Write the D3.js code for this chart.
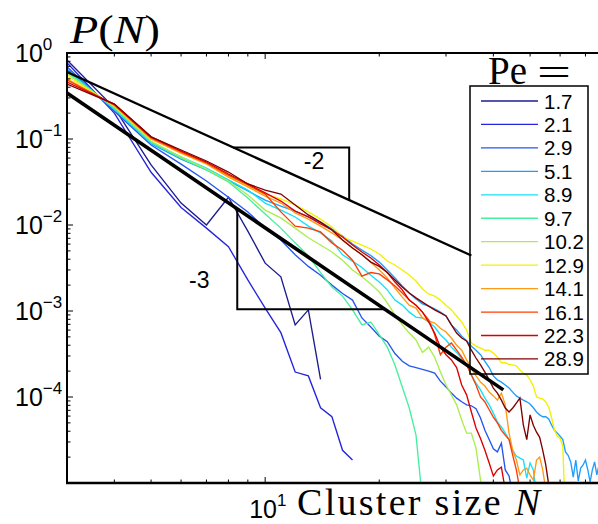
<!DOCTYPE html>
<html><head><meta charset="utf-8">
<script src="https://cdn.jsdelivr.net/npm/d3@7"></script>
<style>body{margin:0;background:#fff;overflow:hidden}</style>
</head><body>
<svg id="c" width="598" height="524"></svg>
<script>
// ---- data ----
const sizes = [3,4,5,6,7,8,9,10,11,12,13,14,15,16,17,18,19,20,21,22,23,24,25,26,27,28,29,30,31,32,33,34,35,36,37,38,39,40,41,42,43,44,45,46,47,48,49,50,51,52,53,54,55,56,57,58,59,60,61,62,63,64,65,66,67,68,69,70,71,72,73,74,75,76];
const peLabels = ["1.7","2.1","2.9","5.1","8.9","9.7","10.2","12.9","14.1","16.1","22.3","28.9"];
const peColors = ["#1c1c90","#2424dd","#2457f0","#1e9cff","#12e2f8","#48eea0","#aaee4e","#f4f000","#ff9a14","#ff3c00","#dc0000","#800000"];

const P_1_7 = [0.83,0.23,0.050,0.018,0.010,0.021,0.0085,0.0036,0.0025,6.9e-4,1.03e-3,1.6e-4];
const P_2_1 = [0.77,0.20,0.041,0.016,0.0092,0.0056,0.0023,1.08e-3,5.6e-4,1.95e-4,1.76e-4,7.5e-5,5.9e-5,2.4e-5,1.85e-5];
const P_2_9 = [0.69,0.21,0.085,0.051,0.0325,0.021,0.0142,0.0092,0.0067,0.0045,0.0033,0.0026,0.0020,0.0016,0.00134,8.3e-4,6.5e-4,5.1e-4,4.4e-4,3.2e-4,2.6e-4,2.3e-4,2.2e-4,2.1e-4,2.0e-4,1.9e-4,1.53e-4,1.31e-4,1.11e-4,9.7e-5,8.8e-5,8.1e-5,7.9e-5,7.3e-5,5.7e-5,4.1e-5,3.2e-5,2.5e-5,2.3e-5,2.9e-5,1.42e-5,1.21e-5,7.3e-6];
const P_5_1 = [0.65,0.22,0.088,0.0585,0.0436,0.0325,0.0249,0.0195,0.0166,0.0145,0.0124,0.0108,0.0090,0.00745,0.0060,0.0051,0.0044,0.0037,0.0030,0.00242,0.00195,0.00162,0.00138,0.00121,0.00114,0.00106,9.7e-4,8.75e-4,6.9e-4,6.0e-4,5.1e-4,4.5e-4,3.9e-4,3.5e-4,3.1e-4,2.6e-4,2.2e-4,1.76e-4,1.58e-4,1.49e-4,1.38e-4,1.27e-4,1.14e-4,1.03e-4,9.7e-5,9.2e-5,8.8e-5,8.3e-5,7.5e-5,6.7e-5,6.2e-5,5.9e-5,5.9e-5,5.55e-5,4.7e-5,4.1e-5,3.8e-5,3.5e-5,3.2e-5,2.3e-5,2.1e-5,1.76e-5,1.17e-5,1.85e-5,1.06e-5,1.49e-5,1.62e-5,1.85e-5,1.42e-5,1.03e-5,1.42e-5,1.76e-5,1.24e-5,1.62e-5];
const P_8_9 = [0.62,0.223,0.090,0.0618,0.046,0.0334,0.0255,0.018,0.0149,0.0124,0.0097,0.0081,0.0065,0.0045,0.0038,0.0032,0.0026,0.00217,0.00176,0.00134,0.00117,9.7e-4,8.5e-4,8.3e-4,7.45e-4,6.5e-4,5.3e-4,4.6e-4,3.8e-4,3.3e-4,2.8e-4,2.4e-4,1.8e-4,1.45e-4,1.21e-4,9.7e-5,8.1e-5,6.5e-5,5.1e-5,4.5e-5,3.8e-5,3.2e-5,2.4e-5,2.06e-5,1.95e-5,1.85e-5,1.14e-5,1.71e-5,1.42e-5,7.3e-6];
const P_9_7 = [0.60,0.229,0.0923,0.060,0.0436,0.0316,0.0206,0.0134,0.0092,0.0062,0.0044,0.0028,0.0019,0.00149,0.00103,6.9e-4,7.45e-4,5.3e-4,3.8e-4,2.36e-4,1.31e-4,7.45e-5,3.6e-5,6.3e-6];
const P_10_2 = [0.57,0.236,0.0948,0.0618,0.0448,0.0325,0.0223,0.0149,0.0121,0.0092,0.0071,0.00585,0.00485,0.0039,0.0030,0.0025,0.00206,0.00166,0.00124,9.0e-4,6.9e-4,5.55e-4,4.6e-4,3.3e-4,3.8e-4,2.9e-4,1.95e-4,1.38e-4,1.06e-4,8.1e-5,5.4e-5,3.8e-5,3.8e-5,2.55e-5,1.08e-5,6.3e-6];
const P_12_9 = [0.54,0.242,0.100,0.0687,0.0512,0.0371,0.0284,0.0229,0.0201,0.0171,0.0142,0.0117,0.0095,0.00725,0.0065,0.00585,0.00526,0.0046,0.00381,0.00343,0.0030,0.00262,0.00223,0.0018,0.00158,0.00149,0.00134,0.00117,0.00103,8.75e-4,7.45e-4,6.0e-4,4.24e-4,3.9e-4,3.7e-4,3.5e-4,3.5e-4,3.25e-4,2.9e-4,2.5e-4,2.5e-4,2.4e-4,2.36e-4,2.3e-4,2.06e-4,1.9e-4,1.8e-4,1.58e-4,1.34e-4,1.0e-4,9.7e-5,9.5e-5,8.75e-5,7.65e-5,5.7e-5,4.1e-5,3.5e-5,3.3e-5,2.7e-5,3.7e-6];
const P_14_1 = [0.50,0.245,0.100,0.0687,0.0512,0.0361,0.0277,0.0217,0.018,0.0138,0.0117,0.0097,0.0081,0.0067,0.0054,0.0045,0.0037,0.0030,0.00242,0.00185,0.00145,0.00117,0.00108,8.3e-4,7.65e-4,7.25e-4,6.3e-4,5.7e-4,4.85e-4,4.0e-4,3.5e-4,2.7e-4,2.17e-4,1.76e-4,1.49e-4,1.34e-4,1.14e-4,1.03e-4,9.2e-5,1.11e-4,8.1e-5,3.8e-5,2.4e-5,1.85e-5,1.24e-5,1.42e-5,1.49e-5,1.24e-5,1.08e-5,1.85e-5,2.0e-5,1.42e-5,8.3e-6];
const P_16_1 = [0.485,0.249,0.103,0.0706,0.0526,0.0381,0.0292,0.0229,0.0142,0.0097,0.0092,0.0083,0.0062,0.0051,0.0039,0.00255,0.0028,0.0027,0.0023,0.00195,0.00162,0.00134,0.00117,9.7e-4,7.9e-4,5.3e-4,3.1e-4,3.8e-4,4.24e-4,3.5e-4,2.9e-4,2.36e-4,1.8e-4,1.38e-4,1.0e-4,8.75e-5,7.1e-5,5.85e-5,5.0e-5,4.1e-5,3.6e-5,3.2e-5,2.1e-5,1.42e-5,8.3e-6];
const P_22_3 = [0.46,0.255,0.106,0.0725,0.054,0.0392,0.030,0.0236,0.019,0.0145,0.0124,0.0103,0.00875,0.00725,0.00585,0.00485,0.00413,0.00343,0.0028,0.00217,0.00176,0.00134,0.00117,9.7e-4,7.45e-4,5.55e-4,3.8e-4,3.1e-4,2.7e-4,2.2e-4,1.38e-4,1.06e-4,6.7e-5,4.36e-5,3.3e-5,2.4e-5,1.71e-5,1.21e-5,1.42e-5,1.53e-5,8.3e-6];
const P_28_9 = [0.436,0.255,0.106,0.0745,0.0555,0.0413,0.030,0.0255,0.0229,0.0171,0.0131,0.0108,0.00875,0.0067,0.0054,0.0045,0.0037,0.0033,0.0028,0.0023,0.0019,0.00162,0.00142,0.00127,0.00114,0.00103,9.5e-4,8.75e-4,6.9e-4,5.55e-4,4.85e-4,4.48e-4,3.5e-4,2.84e-4,2.36e-4,1.95e-4,1.58e-4,1.27e-4,1.11e-4,9.2e-5,7.45e-5,6.7e-5,7.45e-5,8.5e-5,9.7e-5,4.7e-5,3.2e-5,6.2e-5,4.7e-5,3.9e-5,3.4e-5,2.4e-5,1.62e-5,9.5e-6];
const seriesP = [P_1_7,P_2_1,P_2_9,P_5_1,P_8_9,P_9_7,P_10_2,P_12_9,P_14_1,P_16_1,P_22_3,P_28_9];

// guide lines (slopes -2 and -3) and their triangles, in data units
const slope2N = [3, 35],   slope2P = [0.601, 0.00442];
const slope3N = [3, 42.5], slope3P = [0.343, 1.21e-4];
const tri2N = [8.23, 16.66, 16.66], tri2P = [0.0799, 0.0799, 0.0195];
const tri3N = [8.44, 8.44, 20.66],  tri3P = [0.0154, 0.00105, 0.00105];
const slopeLabels = [{t:"-2", N:12.65, P:0.0447}, {t:"-3", N:6.3, P:0.00187}];

const yDecades = [1, 0.1, 0.01, 0.001, 0.0001];
const yExp = ["0","\u22121","\u22122","\u22123","\u22124"];

// ---- layout ----
const L = 67, T = 53, B = 483;
const svg = d3.select("#c");
const x = d3.scaleLog().domain([3, 80]).range([L, L + 379 * Math.log10(80/3)]);
const y = d3.scaleLog().domain([1e-5, 1]).range([B, T]);
const W = 598;

svg.append("defs").append("clipPath").attr("id","clip")
  .append("rect").attr("x",L).attr("y",T).attr("width",W-L+20).attr("height",B-T);

const sans = "'Liberation Sans', Arial, sans-serif";
const serif = "'Liberation Serif', 'Times New Roman', serif";

const plot = svg.append("g").attr("clip-path","url(#clip)");
const line = d3.line().x(d=>x(d[0])).y(d=>y(d[1]));

seriesP.forEach((ps,i)=>{
  const pts = ps.map((p,j)=>[sizes[j], p]);
  plot.append("path").attr("d", line(pts)).attr("fill","none")
    .attr("stroke", peColors[i]).attr("stroke-width",1.35);
});

// guides
const pair = (ns,ps)=>ns.map((n,i)=>[n,ps[i]]);
plot.append("path").attr("d", line(pair(slope2N,slope2P))).attr("fill","none").attr("stroke","#000").attr("stroke-width",2.3);
plot.append("path").attr("d", line(pair(slope3N,slope3P))).attr("fill","none").attr("stroke","#000").attr("stroke-width",3.6);
plot.append("path").attr("d", line(pair(tri2N,tri2P))).attr("fill","none").attr("stroke","#000").attr("stroke-width",2);
plot.append("path").attr("d", line(pair(tri3N,tri3P))).attr("fill","none").attr("stroke","#000").attr("stroke-width",2);
slopeLabels.forEach(s=>{
  svg.append("text").attr("x",x(s.N)).attr("y",y(s.P)).text(s.t)
    .attr("font-family",sans).attr("font-size",23).attr("fill","#000");
});

// axes frame
const ax = svg.append("g").attr("stroke","#000").attr("fill","none");
ax.append("line").attr("x1",L).attr("x2",L).attr("y1",T).attr("y2",B+1).attr("stroke-width",2);
ax.append("line").attr("x1",L-1).attr("x2",W).attr("y1",T).attr("y2",T).attr("stroke-width",2);
ax.append("line").attr("x1",L-1).attr("x2",W).attr("y1",B).attr("y2",B).attr("stroke-width",2.4);

// y ticks
const yt = y.ticks();
yt.forEach(v=>{
  const major = Math.abs(Math.log10(v) - Math.round(Math.log10(v))) < 1e-9;
  ax.append("line").attr("x1",L).attr("x2",L+(major?6:3.5)).attr("y1",y(v)).attr("y2",y(v)).attr("stroke-width",1);
});
// x ticks (top and bottom, inward)
const xt = x.ticks().filter(v=>x(v)<W);
xt.forEach(v=>{
  const major = Math.abs(Math.log10(v) - Math.round(Math.log10(v))) < 1e-9;
  const len = major?6:3.5;
  ax.append("line").attr("x1",x(v)).attr("x2",x(v)).attr("y1",T).attr("y2",T+len).attr("stroke-width",1);
  ax.append("line").attr("x1",x(v)).attr("x2",x(v)).attr("y1",B).attr("y2",B-len).attr("stroke-width",1);
});

// y labels
yDecades.forEach((v,i)=>{
  const t = svg.append("text").attr("x",15).attr("y",y(v)+9).attr("font-family",sans).attr("font-size",25).attr("fill","#000");
  t.append("tspan").text("10");
  t.append("tspan").attr("dy",-12).attr("font-size",17).text(yExp[i]);
});
// x label 10^1
{
  const t = svg.append("text").attr("x",x(10)-16).attr("y",518).attr("font-family",sans).attr("font-size",25).attr("fill","#000");
  t.append("tspan").text("10");
  t.append("tspan").attr("dy",-12).attr("font-size",17).text("1");
}
// axis titles
{
  const t = svg.append("text").attr("x",297).attr("y",515).attr("font-family",serif).attr("font-size",38)
    .attr("fill","#000").attr("textLength",243).attr("lengthAdjust","spacing");
  t.append("tspan").text("Cluster size ");
  t.append("tspan").attr("font-style","italic").text("N");
}
{
  const t = svg.append("text").attr("x",70).attr("y",43).attr("font-family",serif).attr("font-size",40)
    .attr("fill","#000").attr("textLength",90).attr("lengthAdjust","spacingAndGlyphs");
  t.append("tspan").attr("font-style","italic").text("P");
  t.append("tspan").text("(");
  t.append("tspan").attr("font-style","italic").text("N");
  t.append("tspan").text(")");
}

// legend
const lg = svg.append("g");
lg.append("text").attr("x",488).attr("y",84).attr("font-family",serif).attr("font-size",39).attr("fill","#000").text("Pe");
lg.append("text").attr("x",537).attr("y",85).attr("font-family",serif).attr("font-size",38).attr("fill","#000")
  .attr("textLength",34).attr("lengthAdjust","spacingAndGlyphs").text("=");
lg.append("rect").attr("x",470).attr("y",86).attr("width",118).attr("height",288).attr("fill","none").attr("stroke","#000").attr("stroke-width",1.5);
peLabels.forEach((lab,i)=>{
  const cy = 101 + i*23.45;
  lg.append("line").attr("x1",481).attr("x2",538).attr("y1",cy).attr("y2",cy).attr("stroke",peColors[i]).attr("stroke-width",1.3);
  lg.append("text").attr("x",544).attr("y",cy+7.5).attr("font-family",sans).attr("font-size",20.5).attr("fill","#000").text(lab);
});
</script>
</body></html>
